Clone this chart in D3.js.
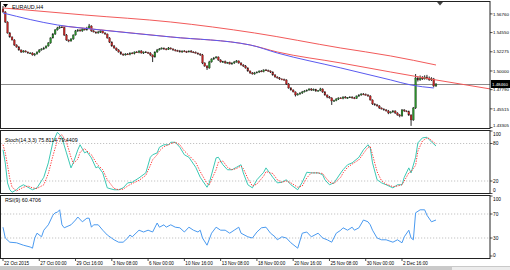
<!DOCTYPE html>
<html>
<head>
<meta charset="utf-8">
<script src="https://cdn.jsdelivr.net/npm/d3@7"></script>
<style>
    body { margin: 0; background: #fff; }
    svg { display: block; font-family: "Liberation Sans", Arial, sans-serif; }
</style>
</head>
<body>
<svg id="chart" width="510" height="270"></svg>
<script>
// EURAUD H4 closes, one per bar (bar 0 = 22 Oct 2015 08:00)
const firstOpen = 1.5734;
const closes = [
    1.5699, 1.5580, 1.5450, 1.5403, 1.5367, 1.5308, 1.5284, 1.5249, 1.5225, 1.5237,
    1.5225, 1.5213, 1.5213, 1.5190, 1.5201, 1.5225, 1.5249, 1.5261, 1.5272, 1.5296,
    1.5332, 1.5391, 1.5438, 1.5486, 1.5509, 1.5521, 1.5515, 1.5426, 1.5367, 1.5355,
    1.5379, 1.5426, 1.5474, 1.5486, 1.5474, 1.5497, 1.5486, 1.5509, 1.5533, 1.5474,
    1.5462, 1.5450, 1.5462, 1.5474, 1.5450, 1.5438, 1.5391, 1.5343, 1.5296, 1.5272,
    1.5249, 1.5225, 1.5201, 1.5190, 1.5201, 1.5196, 1.5213, 1.5208, 1.5225, 1.5220,
    1.5237, 1.5213, 1.5225, 1.5219, 1.5213, 1.5190, 1.5166, 1.5225, 1.5249, 1.5261,
    1.5272, 1.5261, 1.5255, 1.5272, 1.5261, 1.5249, 1.5243, 1.5237, 1.5225, 1.5237,
    1.5231, 1.5225, 1.5237, 1.5225, 1.5220, 1.5213, 1.5201, 1.5190, 1.5095, 1.5059,
    1.5036, 1.5107, 1.5142, 1.5154, 1.5166, 1.5130, 1.5107, 1.5112, 1.5095, 1.5101,
    1.5083, 1.5095, 1.5107, 1.5119, 1.5095, 1.5071, 1.5059, 1.5036, 1.5000, 1.4977,
    1.4965, 1.4977, 1.4988, 1.5000, 1.4994, 1.5012, 1.5006, 1.5000, 1.4988, 1.4953,
    1.4929, 1.4917, 1.4906, 1.4900, 1.4894, 1.4846, 1.4799, 1.4775, 1.4752, 1.4716,
    1.4728, 1.4740, 1.4752, 1.4763, 1.4775, 1.4787, 1.4775, 1.4781, 1.4763, 1.4769,
    1.4787, 1.4752, 1.4716, 1.4692, 1.4681, 1.4645, 1.4650, 1.4669, 1.4681, 1.4675,
    1.4692, 1.4681, 1.4686, 1.4692, 1.4681, 1.4675, 1.4704, 1.4716, 1.4728, 1.4722,
    1.4716, 1.4704, 1.4657, 1.4610, 1.4598, 1.4586, 1.4562, 1.4550, 1.4539, 1.4527,
    1.4503, 1.4515, 1.4527, 1.4503, 1.4479, 1.4468, 1.4539, 1.4527, 1.4521, 1.4479,
    1.4420, 1.4562, 1.4917, 1.4894, 1.4917, 1.4906, 1.4929, 1.4917, 1.4894, 1.4906,
    1.4823, 1.4846
];
// wick length above / below the body, in pips
const wickHi = [
    35,10,8,12,6,10,8,12,6,10, 8,6,10,8,12,6,10,8,14,6, 10,8,12,10,14,16,10,8,12,6,
    10,8,12,10,6,10,8,14,24,8, 10,6,12,8,10,8,6,10,8,12, 6,10,8,6,10,12,8,10,6,12,
    8,10,6,12,8,10,6,8,12,10, 8,6,10,12,8,6,10,8,12,6, 10,8,6,10,8,12,6,10,12,8,
    10,14,8,12,10,6,10,8,12,6, 10,8,12,10,6,8,10,12,8,6, 10,12,8,6,10,8,12,10,6,8,
    10,8,12,6,10,8,12,10,8,6, 10,8,12,10,6,8,10,12,8,6, 14,8,10,6,12,8,10,8,6,10,
    8,12,6,10,8,12,6,10,8,10, 12,8,10,6,8,12,10,6,8,10, 12,8,10,6,8,12,10,8,6,10,
    8,12,47,20,30,22,20,25,18,20, 12,10
];
const wickLo = [
    10,12,8,10,6,12,8,10,12,8, 6,10,12,8,14,6,10,8,12,6, 8,10,6,12,8,10,6,12,10,14,
    8,10,6,12,8,10,6,8,12,10, 6,10,8,12,6,10,8,12,10,8, 12,8,10,12,8,6,10,8,12,6,
    10,8,12,6,10,14,60,8,10,6, 8,12,10,6,8,10,12,8,6,10, 8,12,6,10,8,6,10,12,14,10,
    24,10,8,12,6,10,8,12,10,8, 6,10,12,8,10,6,12,8,10,12, 8,10,6,12,8,10,6,8,12,10,
    8,6,12,10,8,12,10,8,6,18, 8,10,12,6,8,10,12,8,10,6, 8,12,10,14,8,47,10,8,12,6,
    10,8,12,6,10,8,6,12,10,8, 6,10,8,12,10,8,12,6,10,8, 14,8,10,12,8,16,10,12,8,12,
    70,10,12,18,10,12,8,20,10,12, 16,12
];

// moving averages / shifted average, read at a few bars
const maBlueBar = [0, 24, 43, 74, 109, 121, 149, 171, 180, 190];
const maBlue = [1.5687, 1.5545, 1.5486, 1.5403, 1.5308, 1.5213, 1.5036, 1.4894, 1.4834, 1.4799];
const maRedBar = [0, 36, 74, 111, 149, 171, 191];
const maRed = [1.5746, 1.5663, 1.5580, 1.5450, 1.5272, 1.5178, 1.5071];
const shiftRedBar = [26, 74, 109, 121, 149, 171, 191, 215];
const shiftRed = [1.5533, 1.5403, 1.5308, 1.5225, 1.5095, 1.4988, 1.4894, 1.4787];

const priceTicks = [1.56760, 1.54550, 1.52275, 1.50000, 1.47790, 1.45515, 1.43305];
const bidPrice = 1.48460;

// Stochastic(14,3,3)
const stochBar = [0,1,2,3,4,6,7,9,11,13,15,18,20,22,24,25,26,28,30,31,33,34,36,37,39,41,42,44,46,49,51,53,55,57,60,63,65,66,68,69,71,73,74,76,78,80,82,85,87,90,91,94,95,97,99,101,103,105,106,108,110,112,115,116,119,121,123,125,127,130,132,134,136,139,141,142,144,146,149,150,152,154,157,159,161,162,163,165,167,169,172,174,176,177,179,180,182,183,185,187,188,191];
const stochK = [70,49,17,6,2,6,10,14,10,6,9,26,49,82,98,94,89,65,41,49,70,78,65,67,57,41,43,33,9,6,6,9,17,18,25,33,58,62,65,74,78,78,82,82,74,62,58,42,26,10,17,57,58,46,38,38,42,46,33,14,9,22,34,41,26,17,18,22,14,6,18,34,33,33,30,22,14,17,33,38,46,49,58,70,78,73,49,22,17,14,9,14,14,26,41,33,58,81,89,90,86,76];
const stochD = [78,65,45,24,10,4,6,10,12,9,8,14,32,60,85,92,94,82,58,48,55,66,72,68,62,50,45,38,22,8,6,7,12,16,21,29,45,54,62,68,75,78,80,82,78,68,61,50,35,16,14,38,50,52,42,38,40,44,40,24,12,15,28,35,32,22,18,20,17,10,12,25,33,33,32,27,18,16,26,33,42,47,54,64,74,75,62,35,20,15,11,12,14,20,33,35,45,68,84,89,88,79];
const stochLevels = [20, 80];
const stochTicks = [100, 80, 20, 0];

// RSI(9)
const rsiBar = [0,1,3,6,9,12,13,14,15,17,18,20,22,23,24,25,26,27,30,32,33,35,37,38,39,40,42,44,46,49,51,53,55,56,57,60,62,64,66,68,69,71,72,74,76,78,80,82,84,86,87,88,90,92,94,96,98,100,102,104,105,108,110,112,114,116,118,120,121,123,125,127,130,132,134,136,139,141,143,145,147,149,150,152,154,155,157,159,161,162,163,165,167,169,172,174,176,177,179,180,181,182,184,186,187,189,191];
const rsiVal = [48,30,23,22,18,15,13,30,38,32,43,52,68,72,73,77,52,47,52,60,65,57,63,63,48,52,52,43,35,27,23,23,30,35,32,43,40,43,40,55,48,52,48,52,48,47,40,48,43,40,43,30,18,38,48,43,43,38,43,48,38,32,30,40,47,48,38,32,27,32,30,22,13,38,40,32,38,30,27,23,38,43,47,43,48,43,47,60,57,52,43,30,27,27,23,27,22,32,43,30,27,72,77,77,68,57,60];
const rsiLevels = [30, 70];
const rsiTicks = [100, 70, 30, 0];

const timeLabels = ["22 Oct 2015", "27 Oct 00:00", "29 Oct 16:00", "3 Nov 08:00", "6 Nov 00:00",
    "10 Nov 16:00", "13 Nov 08:00", "18 Nov 00:00", "20 Nov 16:00", "25 Nov 08:00",
    "30 Nov 00:00", "2 Dec 16:00"];
const barsPerLabel = 16;

const svg = d3.select('#chart');
const plotRight = 490;

// bar index -> x (about 2.27 px per H4 bar)
const x = d3.scaleLinear().domain([0, 176]).range([3, 402]);

const yPrice = d3.scaleLinear().domain([1.4325, 1.5805]).range([128, 3]);
const yStoch = d3.scaleLinear().domain([0, 100]).range([193.5, 131]);
const yRsi = d3.scaleLinear().domain([0, 100]).range([256, 196]);

const panels = [
    { id: 'main', top: 1.5, bottom: 128.5 },
    { id: 'stoch', top: 130.5, bottom: 193.5 },
    { id: 'rsi', top: 195.5, bottom: 258.5 }
];

const defs = svg.append('defs');
panels.forEach(p => {
    defs.append('clipPath').attr('id', 'clip-' + p.id)
        .append('rect')
        .attr('x', 1).attr('y', p.top)
        .attr('width', plotRight - 1).attr('height', p.bottom - p.top);
});

// bottom tab strip
svg.append('rect').attr('x', 0).attr('y', 266).attr('width', 510).attr('height', 4).attr('fill', '#c9c9c9');
svg.append('rect').attr('x', 452).attr('y', 267).attr('width', 58).attr('height', 3).attr('fill', '#ececec');

// ---------- main panel ----------
const gMain = svg.append('g').attr('clip-path', 'url(#clip-main)');

// bid line
gMain.append('line')
    .attr('x1', 1).attr('x2', plotRight)
    .attr('y1', Math.round(yPrice(bidPrice)) + 0.5).attr('y2', Math.round(yPrice(bidPrice)) + 0.5)
    .attr('stroke', '#8c8c8c').attr('stroke-width', 1);

const bars = closes.map((c, i) => {
    const o = i === 0 ? firstOpen : closes[i - 1];
    return {
        i: i, o: o, c: c,
        h: Math.max(o, c) + wickHi[i] / 10000,
        l: Math.min(o, c) - wickLo[i] / 10000
    };
});

gMain.selectAll('line.wick')
    .data(bars).enter().append('line')
    .attr('class', 'wick')
    .attr('x1', d => x(d.i)).attr('x2', d => x(d.i))
    .attr('y1', d => yPrice(d.h)).attr('y2', d => yPrice(d.l))
    .attr('stroke', '#111').attr('stroke-width', 0.9);

gMain.selectAll('rect.body')
    .data(bars).enter().append('rect')
    .attr('class', 'body')
    .attr('x', d => x(d.i) - 0.9)
    .attr('width', 1.8)
    .attr('y', d => yPrice(Math.max(d.o, d.c)))
    .attr('height', d => Math.max(0.9, Math.abs(yPrice(d.o) - yPrice(d.c))))
    .attr('fill', d => d.c >= d.o ? '#2a8f2a' : '#bf2323')
    .attr('stroke', '#222').attr('stroke-width', 0.25);

function drawLine(g, xs, ys, yScale, color, dash, curve) {
    const pts = xs.map((b, k) => [x(b), yScale(ys[k])]);
    g.append('path')
        .attr('d', d3.line().curve(curve || d3.curveLinear)(pts))
        .attr('fill', 'none')
        .attr('stroke', color)
        .attr('stroke-width', 1)
        .attr('stroke-dasharray', dash || null);
}

drawLine(gMain, maRedBar, maRed, yPrice, '#f25a5a', null, d3.curveMonotoneX);
drawLine(gMain, shiftRedBar, shiftRed, yPrice, '#f25a5a', null, d3.curveMonotoneX);
drawLine(gMain, maBlueBar, maBlue, yPrice, '#5a5af0', null, d3.curveMonotoneX);

// symbol label + chart-shift marker
svg.append('path').attr('d', 'M3,4 L8,4 L5.5,7.5 Z').attr('fill', '#000');
svg.append('text').attr('x', 12).attr('y', 9).text('EURAUD,H4')
    .style('font-size', '5.4px').style('fill', '#000');
svg.append('path').attr('d', 'M437,2 L443,2 L440,5.5 Z').attr('fill', '#444');

// ---------- stochastic ----------
const gStoch = svg.append('g').attr('clip-path', 'url(#clip-stoch)');
stochLevels.forEach(v => {
    gStoch.append('line')
        .attr('x1', 1).attr('x2', plotRight)
        .attr('y1', yStoch(v)).attr('y2', yStoch(v))
        .attr('stroke', '#b4b4b4').attr('stroke-width', 0.8).attr('stroke-dasharray', '1.2,1.8');
});
drawLine(gStoch, stochBar, stochK, yStoch, '#3cc8b4', null);
drawLine(gStoch, stochBar, stochD, yStoch, '#ff3a3a', '1.3,1.3');
svg.append('text').attr('x', 5).attr('y', 142).text('Stoch(14,3,3) 75.8114 79.4409')
    .style('font-size', '5.3px').style('fill', '#000');

// ---------- RSI ----------
const gRsi = svg.append('g').attr('clip-path', 'url(#clip-rsi)');
rsiLevels.forEach(v => {
    gRsi.append('line')
        .attr('x1', 1).attr('x2', plotRight)
        .attr('y1', yRsi(v)).attr('y2', yRsi(v))
        .attr('stroke', '#b4b4b4').attr('stroke-width', 0.8).attr('stroke-dasharray', '1.2,1.8');
});
drawLine(gRsi, rsiBar, rsiVal, yRsi, '#4a9af0', null);
svg.append('text').attr('x', 5).attr('y', 202).text('RSI(9) 60.4706')
    .style('font-size', '5.3px').style('fill', '#000');

// ---------- frames ----------
panels.forEach(p => {
    svg.append('rect')
        .attr('x', 0.5).attr('y', p.top)
        .attr('width', plotRight - 0.5).attr('height', p.bottom - p.top)
        .attr('fill', 'none').attr('stroke', '#222').attr('stroke-width', 1);
});

// ---------- right axes ----------
function rightLabels(ticks, yScale, top, bottom, fmt, size) {
    ticks.forEach(v => {
        const yy = yScale(v);
        const ty = Math.max(top + 4, Math.min(bottom - 3, yy));
        svg.append('line').attr('x1', plotRight).attr('x2', plotRight + 2.5)
            .attr('y1', yy).attr('y2', yy).attr('stroke', '#222').attr('stroke-width', 0.8);
        svg.append('text').attr('x', plotRight + 3).attr('y', ty + 1.7)
            .text(fmt(v)).style('font-size', size + 'px').style('fill', '#000');
    });
}
rightLabels(priceTicks, yPrice, 1.5, 128.5, d3.format('.5f'), 4.4);
rightLabels(stochTicks, yStoch, 130.5, 193.5, d3.format('d'), 4.8);
rightLabels(rsiTicks, yRsi, 195.5, 258.5, d3.format('d'), 4.8);

// bid price box
const by = yPrice(bidPrice);
svg.append('rect').attr('x', 491).attr('y', by - 4).attr('width', 19).attr('height', 8).attr('fill', '#000');
svg.append('text').attr('x', 492).attr('y', by + 1.7).text(d3.format('.5f')(bidPrice))
    .style('font-size', '4.4px').style('fill', '#fff');

// ---------- time axis ----------
timeLabels.forEach((t, k) => {
    const xx = x(k * barsPerLabel);
    svg.append('line').attr('x1', xx).attr('x2', xx).attr('y1', 258.5).attr('y2', 261)
        .attr('stroke', '#222').attr('stroke-width', 0.8);
    svg.append('text').attr('x', xx + 1).attr('y', 265).text(t)
        .style('font-size', '4.6px').style('fill', '#000');
});
</script>
</body>
</html>
